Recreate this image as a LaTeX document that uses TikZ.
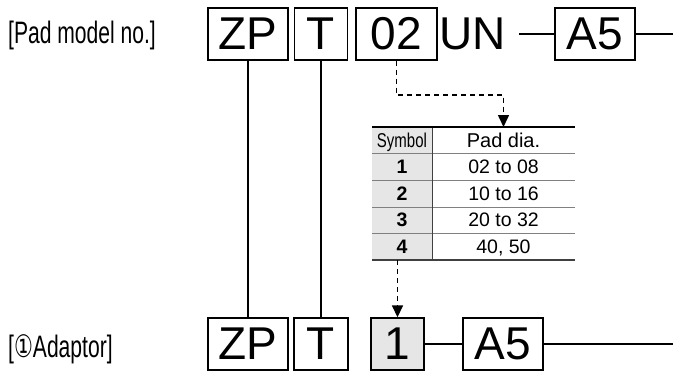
\documentclass[tikz,border=0pt]{standalone}
\usepackage{fontspec}
\setmainfont{Liberation Sans}
\newfontfamily\narrowfont[FakeStretch=0.68]{Liberation Sans}
\newfontfamily\tablenarrow[FakeStretch=0.75]{Liberation Sans}
\newfontfamily\circfont[FakeStretch=0.68]{DejaVu Sans}
\usetikzlibrary{arrows.meta, positioning, calc}
\definecolor{cellgray}{HTML}{E6E6E6}

\tikzset{
  codebox/.style={draw, line width=1.4pt, minimum width=#1, minimum height=52pt, inner sep=0pt, font=\fontsize{46}{46}\selectfont},
  bigtext/.style={inner sep=0pt, font=\fontsize{46}{46}\selectfont},
  sidelabel/.style={anchor=west, inner sep=0pt, font=\narrowfont\fontsize{31}{31}\selectfont},
  cell/.style={anchor=base, inner sep=0pt, font=\fontsize{19.5}{19.5}\selectfont},
  dasharrow/.style={line width=1.6pt, dash pattern=on 5pt off 4pt, -{Triangle[width=11pt,length=12pt]}},
  link/.style={line width=1.5pt},
  thicklink/.style={line width=2.8pt}
}

\begin{document}
\begin{tikzpicture}[x=1pt, y=-1pt]
    \useasboundingbox (0,0) rectangle (673,372);

    % pad model no.
    \node[sidelabel] (padlbl) at (8,35) {[Pad model no.]};
    \node[codebox=80pt] (zp) at (248,34) {ZP};
    \node[codebox=53pt] (t) at (321,34) {T};
    \node[codebox=81pt] (dia) at (396.5,34) {02};
    \node[bigtext] (un) at (473,34) {UN};
    \node[codebox=80pt] (a5) at (595,34) {A5};
    \coordinate (endtop) at (673,34);
    \draw[thicklink] ([xshift=13pt]un.east) -- (a5.west);
    \draw[link] (a5.east) -- (endtop);

    % symbol table
    \coordinate (tabtop) at (503.5,127);
    \coordinate (tabbot) at (397.5,260);
    \fill[cellgray] (372,127) rectangle (432,260);
    \foreach \y in {153,180,207,233}
        \draw[gray, line width=0.8pt] (372,\y) -- (575,\y);
    \draw[darkgray, line width=0.8pt] (432,127) -- (432,260);
    \draw[line width=2pt] (372,127) -- (575,127);
    \draw[darkgray, line width=1.2pt] (372,260) -- (575,260);
    \node[cell, font=\tablenarrow\fontsize{20}{20}\selectfont] (symhead) at (402,147) {Symbol};
    \node[cell, font=\fontsize{20}{20}\selectfont] (diahead) at (503.5,147) {Pad dia.};
    \foreach \s/\d [count=\i] in {1/02 to 08, 2/10 to 16, 3/20 to 32, 4/{40, 50}} {
        \node[cell, font=\bfseries\fontsize{19.5}{19.5}\selectfont] (sym\s) at (402,{153+(\i-0.5)*26.75+7}) {\s};
        \node[cell] (dia\s) at (503.5,{153+(\i-0.5)*26.75+7}) {\d};
    }

    % adaptor
    \node[sidelabel] (adlbl) at (8,349) {[{\circfont ①}Adaptor]};
    \node[codebox=80pt] (zp2) at (248,344) {ZP};
    \node[codebox=54pt] (t2) at (321,344) {T};
    \node[codebox=53pt, fill=cellgray] (s1) at (397.5,344) {1};
    \node[codebox=80pt] (a52) at (503,344) {A5};
    \coordinate (endbot) at (673,344);
    \draw[thicklink] (s1.east) -- (a52.west);
    \draw[link] (a52.east) -- (endbot);

    \draw[link] (zp.south) -- (zp2.north);
    \draw[link] (t.south) -- (t2.north);
    \draw[dasharrow] (dia.south) -- (dia.south |- 0,95) -| (tabtop);
    \draw[dasharrow] (tabbot) -- (s1.north);
\end{tikzpicture}
\end{document}
